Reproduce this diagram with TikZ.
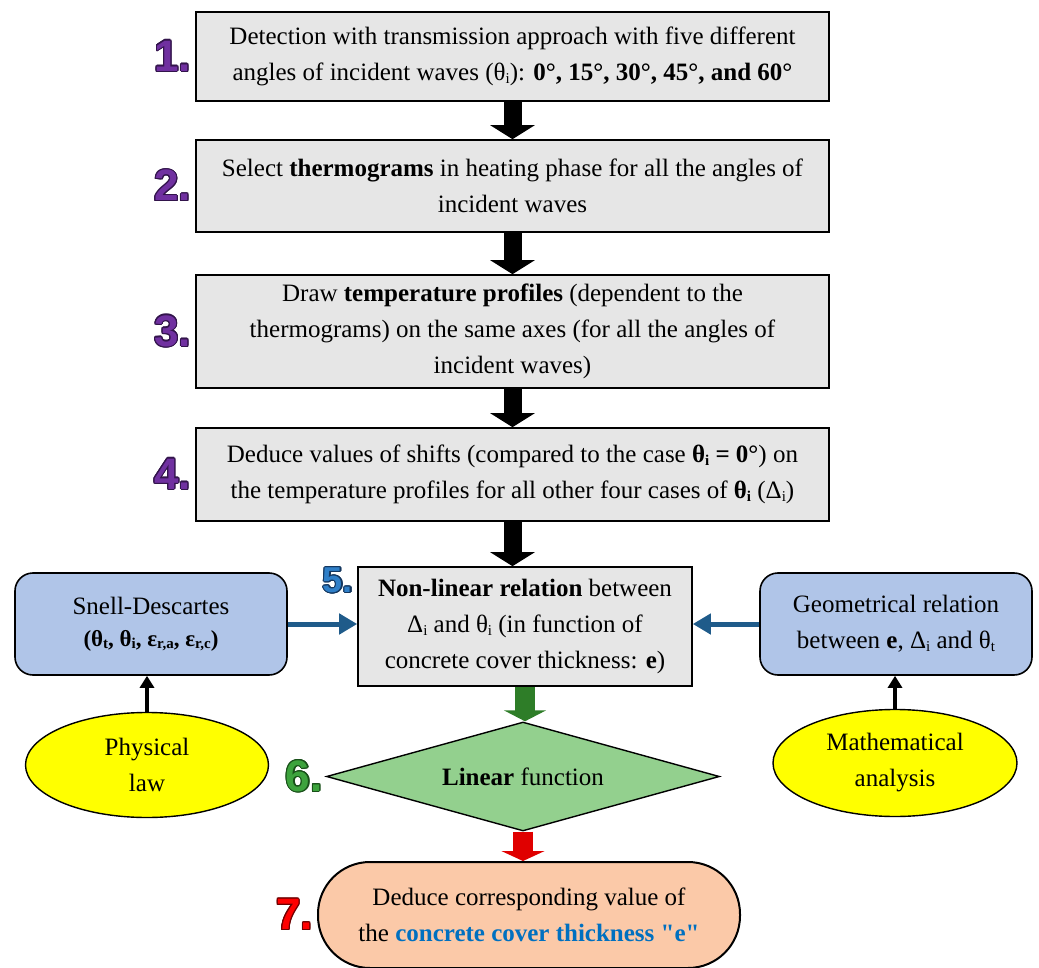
\documentclass[tikz,border=0pt]{standalone}
\usepackage{fontspec}
\setmainfont{Liberation Serif}
\newfontfamily\numfont{Liberation Sans}
\usepackage{contour}
\contourlength{1.1pt}
\usetikzlibrary{arrows.meta,shapes.geometric,calc}
\definecolor{boxgray}{RGB}{230,230,230}
\definecolor{boxblue}{RGB}{176,197,232}
\definecolor{ellyellow}{RGB}{255,255,0}
\definecolor{diagreen}{RGB}{147,208,142}
\definecolor{arrgreen}{RGB}{46,125,40}
\definecolor{arrred}{RGB}{224,0,0}
\definecolor{termpeach}{RGB}{251,201,168}
\definecolor{arrblue}{RGB}{31,91,138}
\definecolor{txtblue}{RGB}{0,112,192}
\definecolor{numpurple}{RGB}{112,48,160}
\definecolor{numpurpledk}{RGB}{50,20,75}
\definecolor{numblue}{RGB}{47,127,200}
\definecolor{numbluedk}{RGB}{20,55,95}
\definecolor{numgreen}{RGB}{61,163,61}
\definecolor{numgreendk}{RGB}{25,80,25}
\definecolor{numred}{RGB}{255,0,0}
\definecolor{numreddk}{RGB}{110,0,0}
\newcommand{\sbi}[1]{\raisebox{-0.25ex}{\fontsize{15}{15}\selectfont #1}}
\begin{document}
\begin{tikzpicture}[x=1pt,y=-1pt,font=\fontsize{25}{36}\selectfont,
  mainbox/.style={draw=black,line width=1.6pt,fill=boxgray,minimum width=633,align=center,inner sep=0},
  sidebox/.style={draw=black,line width=1.6pt,fill=boxblue,rounded corners=18,minimum width=272,minimum height=102,align=center,inner sep=0},
  ellbox/.style={draw=black,line width=1.4pt,fill=ellyellow,ellipse,align=center,inner sep=0},
  numlabel/.style={font=\numfont\bfseries\fontsize{44}{44}\selectfont,inner sep=0},
  blockarrow/.style={line width=18pt,-{Triangle[width=44pt,length=14pt]}},
  greenarrow/.style={arrgreen,line width=20pt,-{Triangle[width=42pt,length=11pt]}},
  redarrow/.style={arrred,line width=20pt,-{Triangle[width=43pt,length=10pt]}},
  bluearrow/.style={arrblue,line width=5pt,-{Triangle[width=20pt,length=18pt]}},
  thinarrow/.style={black,line width=3.5pt,-{Triangle[width=14pt,length=12pt]}}]
\useasboundingbox (0,0) rectangle (1039,968);

\node[mainbox,minimum height=89] (b1) at (512.5,56.5)
  {Detection with transmission approach with five different\\
   angles of incident waves (θ\sbi{i}): \textbf{0°, 15°, 30°, 45°, and 60°}};
\node[mainbox,minimum height=92] (b2) at (512.5,186)
  {Select \textbf{thermograms} in heating phase for all the angles of\\ incident waves};
\node[mainbox,minimum height=113] (b3) at (512.5,331.5)
  {Draw \textbf{temperature profiles} (dependent to the\\
   thermograms) on the same axes (for all the angles of\\ incident waves)};
\node[mainbox,minimum height=93] (b4) at (512.5,474.5)
  {Deduce values of shifts (compared to the case \textbf{θ\sbi{i} = 0°}) on\\
   the temperature profiles for all other four cases of \textbf{θ\sbi{i}} (Δ\sbi{i})};
\node[mainbox,minimum width=334,minimum height=119] (b5) at (525,626.5)
  {\textbf{Non-linear relation} between\\ Δ\sbi{i} and θ\sbi{i} (in function of\\
   concrete cover thickness: \textbf{e})};
\node[sidebox] (snell) at (151,624)
  {Snell-Descartes\\[-4pt] {\bfseries\fontsize{23}{28}\selectfont (θ\sbi{t}, θ\sbi{i}, ε\sbi{r,a}, ε\sbi{r,c})}};
\node[sidebox] (geom) at (896,624)
  {Geometrical relation\\ between \textbf{e}, Δ\sbi{i} and θ\sbi{t}};
\node[ellbox,minimum width=243,minimum height=105] (phys) at (147,765) {Physical\\ law};
\node[ellbox,minimum width=244,minimum height=107] (math) at (895,763) {Mathematical\\ analysis};
\node[draw=black,line width=1.4pt,fill=diagreen,diamond,shape aspect=3.6,minimum width=393,minimum height=109,inner sep=0] (dia) at (523,776.5)
  {\textbf{Linear} function};
\node[draw=black,line width=2pt,fill=termpeach,rounded corners=52,minimum width=422,minimum height=106,align=center,inner sep=0] (term) at (529,915)
  {Deduce corresponding value of\\ the \textcolor{txtblue}{\textbf{\addfontfeatures{Ligatures=TeXOff}concrete cover thickness "e"}}};

\node[numlabel,anchor=east,text=numpurple] (n1) at ([xshift=-4pt]b1.west) {\contour{numpurpledk}{1.}};
\node[numlabel,anchor=east,text=numpurple] (n2) at ([xshift=-4pt]b2.west) {\contour{numpurpledk}{2.}};
\node[numlabel,anchor=east,text=numpurple] (n3) at ([xshift=-4pt]b3.west) {\contour{numpurpledk}{3.}};
\node[numlabel,anchor=east,text=numpurple] (n4) at ([xshift=-4pt]b4.west) {\contour{numpurpledk}{4.}};
\node[numlabel,font=\numfont\bfseries\fontsize{36}{36}\selectfont,text=numblue,anchor=south east] (n5) at ([xshift=-4pt,yshift=-28pt]b5.north west) {\contour{numbluedk}{5.}};
\node[numlabel,anchor=east,text=numgreen] (n6) at ([xshift=-3pt]dia.west) {\contour{numgreendk}{6.}};
\node[numlabel,anchor=east,text=numred] (n7) at ([xshift=-4pt]term.west) {\contour{numreddk}{7.}};

\draw[blockarrow] (b1.south) -- (b2.north);
\draw[blockarrow] (b2.south) -- (b3.north);
\draw[blockarrow] (b3.south) -- (b4.north);
\draw[blockarrow] (b4.south) -- (b4.south |- b5.north);
\draw[greenarrow] (b5.south) -- (b5.south |- dia.north);
\draw[redarrow] (dia.south) -- (dia.south |- term.north);
\draw[bluearrow] (snell.east) -- (snell.east -| b5.west);
\draw[bluearrow] (geom.west) -- (geom.west -| b5.east);
\draw[thinarrow] (phys.north) -- (phys.north |- snell.south);
\draw[thinarrow] (math.north) -- (math.north |- geom.south);
\end{tikzpicture}
\end{document}
